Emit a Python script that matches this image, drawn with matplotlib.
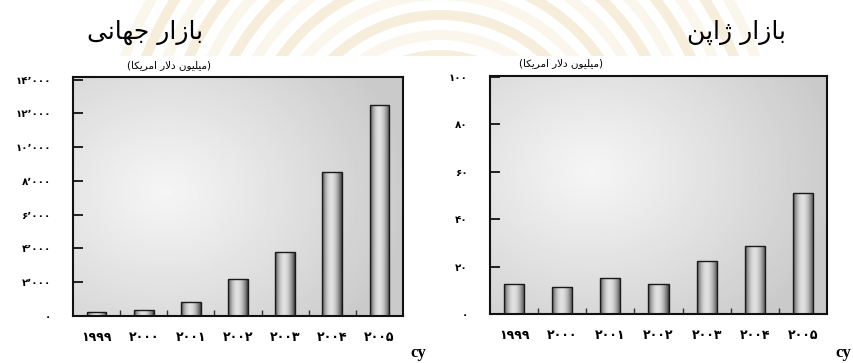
import numpy as np
import matplotlib.pyplot as plt
from matplotlib.patches import Wedge

# داده‌ها
years = ['1999', '2000', '2001', '2002', '2003', '2004', '2005']
world_sales = [250, 350, 850, 2200, 3800, 8500, 12500]
japan_sales = [12.5, 11.5, 15, 12.5, 22.5, 28.5, 51]
world_ticks = [0, 2000, 4000, 6000, 8000, 10000, 12000, 14000]
japan_ticks = [0, 20, 40, 60, 80, 100]

world_title = 'بازار جهانی'
japan_title = 'بازار ژاپن'
unit_label = 'میلیون دلار امریکا'
axis_tag = 'cy'

# شکل‌های حروف: (تنها، پایانی، آغازی، میانی)
FORMS = {
    'ا': ('\uFE8D', '\uFE8E', None, None),
    'ب': ('\uFE8F', '\uFE90', '\uFE91', '\uFE92'),
    'پ': ('\uFB56', '\uFB57', '\uFB58', '\uFB59'),
    'ج': ('\uFE9D', '\uFE9E', '\uFE9F', '\uFEA0'),
    'د': ('\uFEA9', '\uFEAA', None, None),
    'ر': ('\uFEAD', '\uFEAE', None, None),
    'ز': ('\uFEAF', '\uFEB0', None, None),
    'ژ': ('\uFB8A', '\uFB8B', None, None),
    'ک': ('\uFB8E', '\uFB8F', '\uFB90', '\uFB91'),
    'ل': ('\uFEDD', '\uFEDE', '\uFEDF', '\uFEE0'),
    'م': ('\uFEE1', '\uFEE2', '\uFEE3', '\uFEE4'),
    'ن': ('\uFEE5', '\uFEE6', '\uFEE7', '\uFEE8'),
    'ه': ('\uFEE9', '\uFEEA', '\uFEEB', '\uFEEC'),
    'و': ('\uFEED', '\uFEEE', None, None),
    'ی': ('\uFBFC', '\uFBFD', '\uFBFE', '\uFBFF'),
}


def shape(text):
    # اتصال حروف و چیدن از راست به چپ
    out = []
    i = 0
    while i < len(text):
        c = text[i]
        if c not in FORMS:
            out.append(c)
            i += 1
            continue
        prev = text[i - 1] if i > 0 else ''
        prev_join = prev in FORMS and FORMS[prev][2] is not None
        if c == 'ل' and i + 1 < len(text) and text[i + 1] == 'ا':
            out.append('\uFEFC' if prev_join else '\uFEFB')
            i += 2
            continue
        nxt = text[i + 1] if i + 1 < len(text) else ''
        next_join = nxt in FORMS and FORMS[c][2] is not None
        iso, fin, ini, med = FORMS[c]
        if prev_join and next_join:
            out.append(med)
        elif prev_join:
            out.append(fin)
        elif next_join:
            out.append(ini)
        else:
            out.append(iso)
        i += 1
    return ''.join(reversed(out))


FA = str.maketrans('0123456789', '۰۱۲۳۴۵۶۷۸۹')


def fa_num(v):
    return '{:,}'.format(v).replace(',', '٬').translate(FA)


FONT = ['DejaVu Sans']
plt.rcParams['font.family'] = FONT

fig = plt.figure(figsize=(8.54, 3.63), dpi=100)

# واترمارک کم‌رنگ بالای صفحه
wm = fig.add_axes([0, 1 - 56 / 363, 1, 56 / 363], zorder=-5)
wm.set_xlim(0, 854)
wm.set_ylim(56, 0)
wm.axis('off')
for k, r in enumerate(range(100, 360, 20)):
    col = '#fbf6ec' if k % 2 == 0 else '#f6edda'
    wm.add_patch(Wedge((440, 170), r, 180, 360, width=10, facecolor=col,
                       edgecolor='none'))


def bar_gradient():
    t = np.linspace(0, 1, 64)
    v = 0.22 + 0.66 * np.sin(np.pi * t ** 0.9) ** 0.8
    return v[np.newaxis, :]


def draw_panel(rect, values, ticks, top, labels, center):
    ax = fig.add_axes(rect)
    ax.set_xlim(-0.5, 6.5)
    ax.set_ylim(0, top)

    # پس‌زمینه‌ی شعاعی خاکستری
    gx, gy = np.meshgrid(np.linspace(0, 1, 300), np.linspace(0, 1, 200))
    d = np.sqrt(((gx - center[0]) / 0.75) ** 2 + ((gy - center[1]) / 0.85) ** 2)
    bg = 0.96 - 0.17 * np.clip(d, 0, 1) ** 1.1
    ax.imshow(bg, extent=[-0.5, 6.5, 0, top], origin='lower', aspect='auto',
              cmap='gray', vmin=0, vmax=1, zorder=0, interpolation='bilinear')

    x = np.arange(len(values))
    bars = ax.bar(x, values, width=0.42, facecolor='none', edgecolor='#1a1a1a',
                  linewidth=1.0, zorder=3)
    for b in bars:
        im = ax.imshow(bar_gradient(), extent=[b.get_x(), b.get_x() + b.get_width(),
                                               0, b.get_height()],
                       aspect='auto', cmap='gray', vmin=0, vmax=1, zorder=2,
                       interpolation='bilinear')
        im.set_clip_path(b)

    ax.set_yticks(ticks)
    ax.set_yticklabels([fa_num(t) for t in ticks], fontsize=7.5, fontweight='bold')
    ax.set_xticks(x)
    ax.set_xticklabels([y.translate(FA) for y in labels], fontsize=9, fontweight='bold')
    ax.set_xticks(x[:-1] + 0.5, minor=True)
    ax.tick_params(axis='y', direction='in', length=7, width=1.2, pad=16)
    ax.tick_params(axis='x', which='major', length=0, pad=11)
    ax.tick_params(axis='x', which='minor', direction='in', length=4, width=1.0,
                   color='#333333')
    for s in ax.spines.values():
        s.set_linewidth(1.5)
        s.set_color('#111111')
    return ax


ax1 = draw_panel([73 / 854, 47 / 363, 330 / 854, 239 / 363], world_sales,
                 world_ticks, 14150, years, (0.28, 0.52))
ax2 = draw_panel([490 / 854, 49 / 363, 337 / 854, 238 / 363], japan_sales,
                 japan_ticks, 100.4, years, (0.3, 0.6))

fig.text(145 / 854, 1 - 32 / 363, shape(world_title), fontsize=18,
         ha='center', va='center', family=FONT)
fig.text(736 / 854, 1 - 32 / 363, shape(japan_title), fontsize=18,
         ha='center', va='center', family=FONT)
fig.text(169 / 854, 1 - 65 / 363, '(' + shape(unit_label) + ')', fontsize=7.5,
         ha='center', va='center', family=FONT)
fig.text(561 / 854, 1 - 63 / 363, '(' + shape(unit_label) + ')', fontsize=7.5,
         ha='center', va='center', family=FONT)
fig.text(418 / 854, 1 - 353 / 363, axis_tag, fontsize=12, fontweight='bold',
         ha='center', va='center', family=['Liberation Serif'])
fig.text(843 / 854, 1 - 353 / 363, axis_tag, fontsize=12, fontweight='bold',
         ha='center', va='center', family=['Liberation Serif'])

fig.savefig('out.png', dpi=100)
